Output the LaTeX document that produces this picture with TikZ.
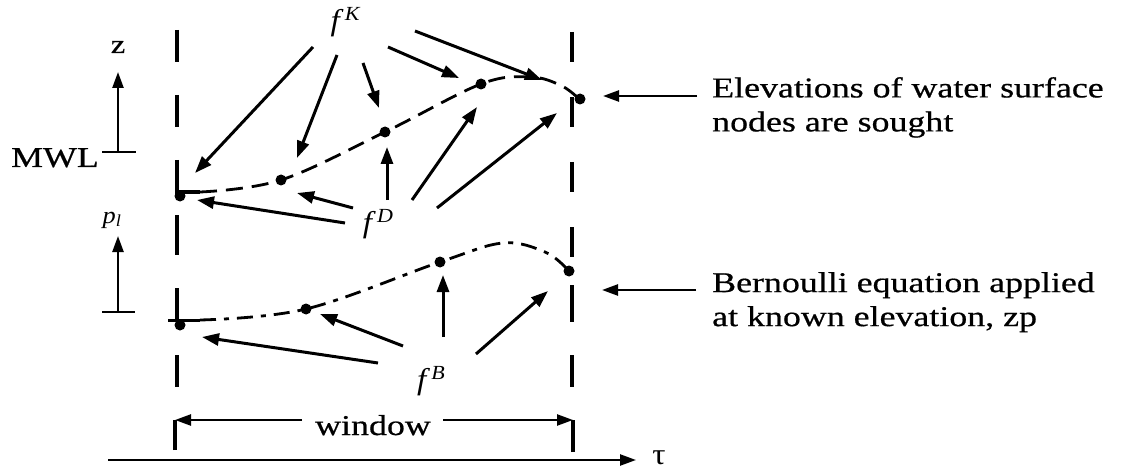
\documentclass[tikz,border=0pt]{standalone}
\usepackage{fontspec}
\setmainfont[FakeStretch=1.25,FakeBold=0.6]{Liberation Serif}
\newfontfamily\plainfont[FakeStretch=1.1]{Liberation Serif}
\usetikzlibrary{arrows.meta}
\begin{document}
\begin{tikzpicture}[x=1pt,y=-1pt,
  guide/.style={line width=4.6pt},
  conn/.style={line width=3pt,-{Triangle[length=17pt,width=12pt]}},
  thin conn/.style={line width=2.4pt,-{Triangle[length=16pt,width=11pt]}},
  surface/.style={line width=2.8pt,dash pattern=on 17pt off 9pt},
  bern/.style={line width=2.8pt,dash pattern=on 16pt off 8pt on 5pt off 8pt},
  dot/.style={circle,fill,inner sep=0pt,minimum size=11pt},
  lbl/.style={font=\fontsize{28.7}{34}\selectfont,inner sep=0pt},
  force/.style={font=\plainfont\fontsize{30}{32}\selectfont,inner sep=0pt},
  note/.style={lbl,align=left,anchor=north west}]
\useasboundingbox (0,0) rectangle (1125,476);

% window boundaries (left and right)
\foreach \a/\b in {30/62,95/127,215/255,355/387}
  \draw[guide] (177,\a) -- (177,\b);
\foreach \a/\b in {32/62,97/127,162/192,227/257,285/322,355/387}
  \draw[guide] (572,\a) -- (572,\b);
\draw[guide] (177,160) -- (177,192) -- (200,192);
\draw[guide] (177,288) -- (177,320);
\draw[line width=3pt] (168,320) -- (200,320);

% surface nodes
\node[dot] (s0) at (180,196) {};
\node[dot] (s1) at (281,180) {};
\node[dot] (s2) at (385,132) {};
\node[dot] (s3) at (481,84) {};
\node[dot] (s4) at (580,99) {};
\draw[surface] plot[smooth,tension=0.6] coordinates
  {(200,192) (281,180) (385,132) (481,84) (530,77) (560,85) (577,97)};

% Bernoulli nodes
\node[dot] (b0) at (180,325) {};
\node[dot] (b1) at (306,309) {};
\node[dot] (b2) at (440,262) {};
\node[dot] (b3) at (569,271) {};
\draw[bern] plot[smooth,tension=0.6] coordinates
  {(200,320) (306,309) (440,262) (503,243) (545,252) (566,268)};

% forcing labels
\newcommand\forcing[1]{\itshape f\kern5pt\raisebox{10pt}{\fontsize{20}{20}\selectfont #1}}
\node[force] (fK) at (345,22) {\forcing{K}};
\node[force] (fD) at (378,224) {\forcing{D}};
\node[force] (fB) at (431,381) {\forcing{B}};

% arrows from f^K
\foreach \n/\tx/\ty/\hx/\hy in {1/313/47/195/173, 2/337/55/297/158, 3/363/63/379/108,
                                4/388/47/459/78, 5/415/31/542/80} {
  \coordinate (kt\n) at (\tx,\ty);
  \coordinate (kh\n) at (\hx,\hy);
  \draw[conn] (kt\n) -- (kh\n);
}
% arrows from f^D
\foreach \n/\tx/\ty/\hx/\hy in {1/345/223/197/200, 2/353/208/297/193, 3/387/200/387/147,
                                4/412/200/477/107, 5/437/208/557/113} {
  \coordinate (dt\n) at (\tx,\ty);
  \coordinate (dh\n) at (\hx,\hy);
  \draw[conn] (dt\n) -- (dh\n);
}
% arrows from f^B
\foreach \n/\tx/\ty/\hx/\hy in {1/378/363/202/337, 2/403/346/320/314,
                                3/443/337/443/275, 4/476/354/548/291} {
  \coordinate (bt\n) at (\tx,\ty);
  \coordinate (bh\n) at (\hx,\hy);
  \draw[conn] (bt\n) -- (bh\n);
}

% elevation axes on the left
\coordinate (mwlL) at (102,152); \coordinate (mwlR) at (136,152);
\coordinate (mwlC) at (118,152); \coordinate (zTip) at (118,72);
\draw[line width=2.4pt] (mwlL) -- (mwlR);
\draw[thin conn] (mwlC) -- (zTip);
\node[lbl,font=\fontsize{26}{26}\selectfont] (z) at (118,47) {z};
\node[lbl,anchor=base east] (mwl) at (99,167) {MWL};

\coordinate (pL) at (102,312); \coordinate (pR) at (135,312);
\coordinate (pC) at (118,312); \coordinate (pTip) at (118,236);
\draw[line width=2.4pt] (pL) -- (pR);
\draw[thin conn] (pC) -- (pTip);
\node[lbl,font=\plainfont\fontsize{24}{24}\selectfont] (p) at (112,220) {\itshape p\textsubscript{l}};

% explanatory notes
\node[note] (n1) at (712,77) {Elevations of water surface\\nodes are sought};
\node[note] (n2) at (712,272) {Bernoulli equation applied\\at known elevation, zp};
\coordinate (a1t) at (697,96); \coordinate (a1h) at (603,96);
\coordinate (a2t) at (696,290); \coordinate (a2h) at (602,290);
\draw[thin conn] (a1t) -- (a1h);
\draw[thin conn] (a2t) -- (a2h);

% window bracket
\coordinate (wl) at (175,420); \coordinate (wr) at (573,420);
\draw[guide] (175,450) -- (wl);
\draw[guide] (573,452) -- (wr);
\node[lbl,anchor=base] (win) at (373,435) {window};
\coordinate (wlt) at (302,420); \coordinate (wrt) at (443,420);
\draw[thin conn] (wlt) -- (wl);
\draw[thin conn] (wrt) -- (wr);

% time axis
\coordinate (t0) at (108,460); \coordinate (t1) at (636,460);
\draw[thin conn] (t0) -- (t1);
\node[lbl,font=\plainfont\fontsize{30}{30}\selectfont] (tau) at (659,458) {τ};
\end{tikzpicture}
\end{document}
